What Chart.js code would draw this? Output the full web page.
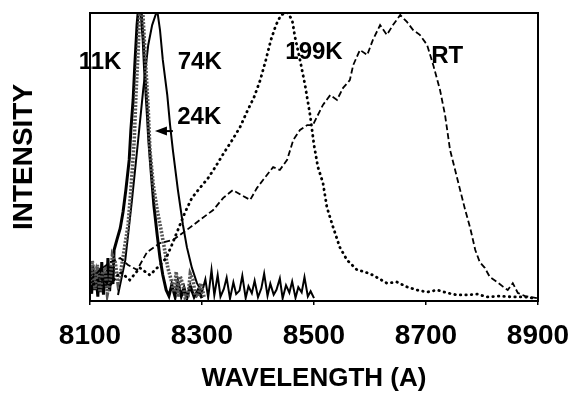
<!DOCTYPE html>
<html>
<head>
<meta charset="utf-8">
<script src="https://cdn.jsdelivr.net/npm/chart.js@4"></script>
<style>
    html, body { margin: 0; padding: 0; background: #fff; }
    #wrap { width: 571px; height: 396px; position: relative; }
</style>
</head>
<body>
<div id="wrap"><canvas id="spectraChart"></canvas></div>
<script>
// wavelength tick labels (A)
var wavelengthTicks = [8100, 8300, 8500, 8700, 8900];

// 11K spectrum
var k11Wavelength = [8100, 8103, 8105, 8108, 8111, 8114, 8116, 8119, 8121, 8124, 8127, 8130, 8132, 8135, 8138, 8141, 8143, 8148, 8154, 8159, 8164, 8170, 8173, 8177, 8180, 8184, 8188, 8191, 8195, 8198, 8202, 8205, 8209, 8214, 8220, 8225, 8230, 8236, 8241, 8246, 8252, 8257, 8263, 8268, 8273, 8279, 8286, 8293, 8300];
var k11Intensity = [9, 2.5, 12.5, 3.8, 8.4, 1.5, 11.5, 3.1, 13.5, 2.2, 9.8, 4.5, 14.9, 3.4, 12.2, 5.9, 17.7, 21.2, 25.3, 30.9, 38.5, 49, 59.4, 69.8, 81.9, 95.8, 104.5, 101, 90.6, 78.5, 66.3, 55.9, 45.5, 33.3, 22.9, 14.9, 9, 3.8, 1.7, 5.6, 1.4, 6.6, 1.7, 4.5, 1, 5.2, 1.4, 3.8, 1];

// 24K spectrum
var k24Wavelength = [8100, 8104, 8109, 8113, 8118, 8122, 8127, 8131, 8136, 8140, 8145, 8150, 8154, 8161, 8168, 8173, 8179, 8182, 8186, 8189, 8193, 8196, 8200, 8204, 8207, 8213, 8220, 8227, 8234, 8239, 8245, 8250, 8254, 8257, 8261, 8266, 8270, 8275, 8279, 8284, 8288, 8293, 8298, 8304];
var k24Intensity = [5.6, 14, 4.1, 12.5, 3.1, 9.5, 10.8, 2.6, 7.3, 15.8, 13.5, 6.2, 9, 17.7, 26.4, 38.5, 55.9, 71.5, 87.2, 101, 104.5, 94.1, 80.2, 66.3, 52.4, 40.3, 31.6, 24.7, 17, 11.5, 7.3, 3.1, 10.2, 1.4, 8.6, 5.6, 1.2, 1.7, 9.4, 7.3, 2.0, 1.4, 6.1, 1.2];

// 74K spectrum
var k74Wavelength = [8150, 8163, 8175, 8186, 8195, 8204, 8211, 8220, 8225, 8230, 8238, 8243, 8248, 8257, 8266, 8273, 8282, 8291, 8300, 8306, 8311, 8317, 8322, 8328, 8333, 8339, 8344, 8350, 8356, 8361, 8367, 8372, 8378, 8383, 8389, 8394, 8400, 8406, 8411, 8417, 8422, 8428, 8433, 8439, 8444, 8450, 8456, 8461, 8467, 8472, 8478, 8483, 8489, 8494, 8500];
var k74Intensity = [2.1, 14.2, 35.1, 55.9, 73.3, 88.9, 95.8, 101, 94.1, 83.7, 71.5, 61.1, 52.4, 38.5, 26.4, 18.7, 11.5, 6.2, 3.1, 7.5, 1.2, 10.8, 2.0, 9.0, 1.5, 4.2, 8.1, 0.8, 6.5, 2.4, 3.6, 8.8, 1.0, 5.1, 2.7, 7.0, 1.3, 4.4, 9.5, 1.8, 6.0, 2.2, 3.9, 7.8, 0.9, 5.5, 2.9, 6.8, 1.1, 4.8, 3.0, 8.3, 1.6, 3.4, 1.0];

// 199K spectrum
var k199Wavelength = [8100, 8118, 8136, 8154, 8171, 8189, 8207, 8225, 8236, 8246, 8257, 8270, 8282, 8296, 8311, 8325, 8339, 8354, 8368, 8380, 8393, 8404, 8414, 8423, 8432, 8441, 8452, 8461, 8466, 8475, 8484, 8493, 8500, 8507, 8516, 8523, 8534, 8546, 8559, 8577, 8591, 8605, 8630, 8648, 8666, 8684, 8702, 8720, 8738, 8755, 8773, 8791, 8809, 8832, 8855, 8877, 8891];
var k199Intensity = [4.5, 8, 5.6, 10.1, 7.3, 11.5, 9, 12.5, 14.9, 19.4, 24.7, 30.9, 35.8, 39.2, 42.7, 46.9, 51.4, 55.9, 60.4, 65.6, 70.8, 76.7, 83.7, 90.6, 95.8, 99.3, 100.3, 97.6, 91.7, 83.7, 75, 64.6, 54.2, 46.5, 41, 32.6, 25.7, 18.7, 14.2, 10.8, 10.1, 9, 6.2, 6.6, 4.9, 3.8, 3.1, 3.8, 2.8, 2.1, 2.1, 2.4, 1.4, 1.7, 1.4, 1.4, 1];

// room temperature spectrum
var rtWavelength = [8100, 8118, 8136, 8154, 8168, 8184, 8202, 8225, 8248, 8273, 8296, 8320, 8338, 8355, 8373, 8386, 8398, 8409, 8427, 8439, 8452, 8463, 8475, 8488, 8498, 8516, 8529, 8541, 8552, 8564, 8570, 8582, 8595, 8605, 8618, 8630, 8641, 8654, 8666, 8677, 8689, 8702, 8713, 8725, 8734, 8743, 8752, 8761, 8770, 8779, 8788, 8796, 8805, 8814, 8827, 8838, 8846, 8855, 8864, 8877, 8886, 8898];
var rtIntensity = [7.3, 10.8, 13.5, 14.9, 12.5, 10.8, 17, 20.1, 21.2, 24.7, 28.1, 31.6, 35.8, 38.5, 36.5, 35.1, 39.2, 42, 46.5, 45.5, 49, 55.9, 59.4, 61.1, 61.1, 68.1, 71.5, 69.8, 74, 76.7, 81.9, 87.2, 85.4, 90.6, 95.8, 92.4, 95.8, 99.3, 96.9, 94.1, 92.4, 88.9, 81.9, 73.3, 64.6, 52.4, 45.5, 38.5, 31.6, 25.3, 17.7, 13.5, 11.5, 8.3, 6.6, 4.9, 3.8, 6.2, 2.8, 1.7, 1.4, 1];

// curve labels, placed in data units
var curveLabels = ['11K', '74K', '24K', '199K', 'RT'];
var curveLabelX = [8118, 8296, 8295, 8500, 8738];
var curveLabelY = [83, 83, 63.9, 86.3, 85.1];

function toPoints(xs, ys) {
    return xs.map(function (x, i) {
        return { x: x, y: ys[i] };
    });
}

var FONT = "'Liberation Sans', Arial, sans-serif";

// frame around the plot area plus the curve labels and the 24K arrow
var figurePlugin = {
    id: 'figure',
    afterDatasetsDraw: function (chart) {
        var ctx = chart.ctx;
        var x = chart.scales.x, y = chart.scales.y;
        var a = chart.chartArea;
        ctx.save();
        ctx.strokeStyle = '#000';
        ctx.lineWidth = 2;
        ctx.strokeRect(a.left, a.top, a.right - a.left, a.bottom - a.top);

        ctx.fillStyle = '#000';
        ctx.font = 'bold 24px ' + FONT;
        ctx.textAlign = 'center';
        ctx.textBaseline = 'middle';
        curveLabels.forEach(function (t, i) {
            ctx.fillText(t, x.getPixelForValue(curveLabelX[i]), y.getPixelForValue(curveLabelY[i]));
        });

        // arrow from 24K label to its curve
        var tipX = x.getPixelForValue(8216), baseX = x.getPixelForValue(8248);
        var ay = y.getPixelForValue(59);
        ctx.beginPath();
        ctx.moveTo(tipX, ay);
        ctx.lineTo(tipX + 12, ay - 4.5);
        ctx.lineTo(tipX + 12, ay + 4.5);
        ctx.closePath();
        ctx.fill();
        ctx.lineWidth = 2;
        ctx.beginPath();
        ctx.moveTo(tipX + 10, ay);
        ctx.lineTo(baseX, ay);
        ctx.stroke();
        ctx.restore();
    }
};

var ctx = document.getElementById('spectraChart').getContext('2d');
var spectraChart = new Chart(ctx, {
    type: 'line',
    data: {
        datasets: [{
            label: 'RT',
            data: toPoints(rtWavelength, rtIntensity),
            borderColor: '#000',
            borderWidth: 1.8,
            borderDash: [6, 3]
        }, {
            label: '199K',
            data: toPoints(k199Wavelength, k199Intensity),
            borderColor: '#000',
            borderWidth: 2.8,
            borderDash: [0.5, 5],
            borderCapStyle: 'round'
        }, {
            label: '24K',
            data: toPoints(k24Wavelength, k24Intensity),
            borderColor: '#555',
            borderWidth: 3.6,
            borderDash: [2, 1.5]
        }, {
            label: '11K',
            data: toPoints(k11Wavelength, k11Intensity),
            borderColor: '#000',
            borderWidth: 3
        }, {
            label: '74K',
            data: toPoints(k74Wavelength, k74Intensity),
            borderColor: '#000',
            borderWidth: 2
        }]
    },
    options: {
        responsive: true,
        maintainAspectRatio: false,
        animation: false,
        devicePixelRatio: 1,
        layout: { padding: { top: 13, right: 33, left: 0, bottom: 0 } },
        elements: {
            point: { radius: 0 },
            line: { tension: 0, fill: false }
        },
        datasets: { line: { clip: 0 } },
        plugins: {
            legend: { display: false },
            tooltip: { enabled: false }
        },
        scales: {
            x: {
                type: 'linear',
                min: 8100,
                max: 8900,
                afterBuildTicks: function (scale) {
                    scale.ticks = wavelengthTicks.map(function (v) { return { value: v }; });
                },
                afterFit: function (scale) {
                    scale.height = 95;
                    scale.paddingLeft = 0;
                    scale.paddingRight = 0;
                },
                border: { display: false },
                grid: {
                    drawOnChartArea: false,
                    color: '#000',
                    lineWidth: 1.5,
                    tickLength: 4
                },
                ticks: {
                    color: '#000',
                    font: { family: FONT, size: 28, weight: 'bold' },
                    padding: 14,
                    maxRotation: 0,
                    callback: function (v) { return String(v); }
                },
                title: {
                    display: true,
                    text: 'WAVELENGTH (A)',
                    color: '#000',
                    font: { family: FONT, size: 26, weight: 'bold' },
                    padding: { top: 0, bottom: 2 }
                }
            },
            y: {
                min: 0,
                max: 100,
                afterFit: function (scale) { scale.width = 90; },
                border: { display: false },
                grid: { display: false },
                ticks: { display: false },
                title: {
                    display: true,
                    text: 'INTENSITY',
                    color: '#000',
                    font: { family: FONT, size: 28, weight: 'bold' },
                    padding: { top: 7, bottom: 0 }
                }
            }
        }
    },
    plugins: [figurePlugin]
});
</script>
</body>
</html>
